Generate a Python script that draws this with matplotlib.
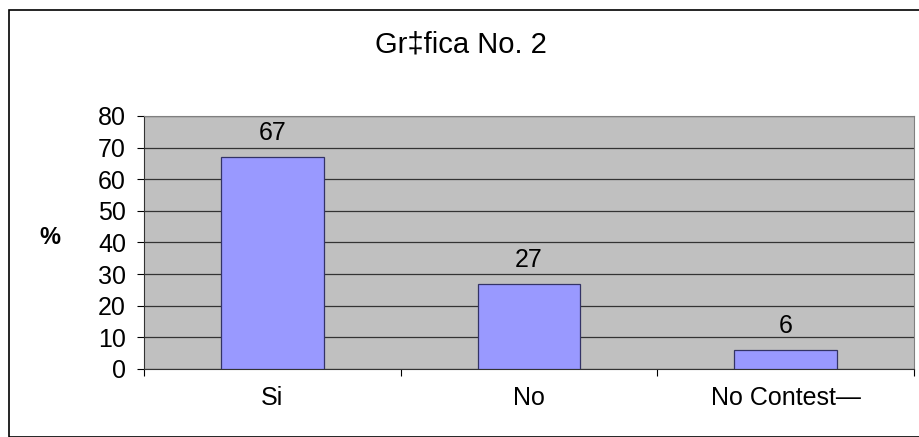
import matplotlib.pyplot as plt
from matplotlib.patches import Rectangle

plt.rcParams['font.family'] = ['Liberation Sans', 'DejaVu Sans']

categories = ["Si", "No", "No Contest\u2014"]
values = [67, 27, 6]
yticks = [0, 10, 20, 30, 40, 50, 60, 70, 80]

W, H = 919, 437
fig = plt.figure(figsize=(W / 100, H / 100), dpi=100)

# outer chart border
fig.patches.append(Rectangle((9 / W, 0), 1.2, 1 - 10 / H, transform=fig.transFigure,
                             fill=False, edgecolor="black", linewidth=1.2))

ax = fig.add_axes([144 / W, 1 - 369 / H, (914 - 144) / W, (369 - 116) / H])
ax.set_facecolor("#c0c0c0")

x = range(len(categories))
ax.bar(x, values, width=0.4, color="#9999ff", edgecolor="#333366", linewidth=0.9, zorder=3)
for xi, v in zip(x, values):
    ax.annotate(str(v), (xi, v), xytext=(0, 12), textcoords="offset pixels",
                ha="center", va="bottom", fontsize=18)

ax.set_xlim(-0.5, 2.5)
ax.set_ylim(0, 80)
ax.set_yticks(yticks)
ax.tick_params(axis="y", labelsize=18, length=5, direction="out", pad=8)
ax.yaxis.grid(True, color="#333333", linewidth=0.9, zorder=1)

ax.set_xticks([-0.5, 0.5, 1.5, 2.5])
ax.set_xticklabels([])
ax.set_xticks(list(x), minor=True)
ax.set_xticklabels(categories, minor=True, fontsize=18)
ax.tick_params(axis="x", which="major", length=5, direction="out")
ax.tick_params(axis="x", which="minor", length=0, pad=12)

for s in ["top", "right"]:
    ax.spines[s].set_color("#808080")
ax.spines["left"].set_color("#333333")
ax.spines["bottom"].set_color("#333333")

fig.text(461 / W, 1 - 45 / H, "Gr\u2021fica No. 2", ha="center", va="center", fontsize=21)
fig.text(50 / W, 1 - 238 / H, "%", ha="center", va="center", fontsize=17, fontweight="bold")

fig.savefig("out.png", dpi=100)
